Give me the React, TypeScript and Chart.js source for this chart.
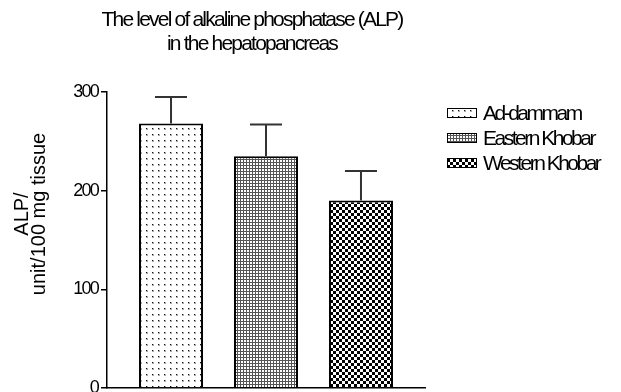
import React, { useEffect, useRef } from 'react';
import { Chart, registerables } from 'chart.js';

Chart.register(...registerables);

// ---------- data ----------
const TITLE_LINES = ['The level of alkaline phosphatase (ALP)', 'in the hepatopancreas'];
const Y_TITLE_LINES = ['ALP/', 'unit/100 mg tissue'];
const SITES = ['Ad-dammam', 'Eastern Khobar', 'Western Khobar'];
const SITE_POSITIONS = [1, 2, 3];
const ALP_MEANS = [268, 235, 190];
const ALP_ERRORS = [27, 32, 30];
const Y_TICKS = [0, 100, 200, 300];
const PATTERN_KINDS = ['dots', 'grid', 'check'];

const Y_MIN = 0;
const Y_MAX = 300;
const X_MIN = 0.326;
const X_MAX = 3.674;

function fontAvailable(name: string): boolean {
  const c = document.createElement('canvas').getContext('2d') as CanvasRenderingContext2D;
  const s = 'mmmmmmmmmmlliWWAa';
  c.font = '40px monospace';
  const a = c.measureText(s).width;
  c.font = `40px "${name}", monospace`;
  const b = c.measureText(s).width;
  return a !== b;
}

function makePattern(ctx: CanvasRenderingContext2D, kind: string): CanvasPattern | string {
  const c = document.createElement('canvas');
  const g = c.getContext('2d') as CanvasRenderingContext2D;
  if (kind === 'dots') {
    c.width = 6; c.height = 6;
    g.fillStyle = '#fff'; g.fillRect(0, 0, 6, 6);
    g.fillStyle = '#aaa'; g.fillRect(2, 2, 2, 2);
    g.fillStyle = '#111'; g.fillRect(2, 2, 1, 1);
  } else if (kind === 'grid') {
    c.width = 3; c.height = 3;
    g.fillStyle = '#fff'; g.fillRect(0, 0, 3, 3);
    g.fillStyle = '#555'; g.fillRect(0, 0, 3, 1); g.fillRect(0, 0, 1, 3);
  } else {
    c.width = 6; c.height = 6;
    g.fillStyle = '#fff'; g.fillRect(0, 0, 6, 6);
    g.fillStyle = '#000'; g.fillRect(0, 0, 3, 3); g.fillRect(3, 3, 3, 3);
  }
  return ctx.createPattern(c, 'repeat') || '#888';
}

export default function App() {
  const ref = useRef<HTMLCanvasElement | null>(null);

  useEffect(() => {
    document.body.style.margin = '0';
    const canvas = ref.current as HTMLCanvasElement;
    const ctx = canvas.getContext('2d') as CanvasRenderingContext2D;

    const narrow = fontAvailable('Liberation Sans Narrow');
    const NARROW_FAMILY = narrow ? '"Liberation Sans Narrow", "Liberation Sans", Arial, sans-serif' : '"Liberation Sans", Arial, sans-serif';
    const SPACING = narrow ? '0px' : '-1.8px';
    const LEGEND_SPACING = narrow ? '0px' : '-2.5px';
    const NORMAL_FAMILY = '"Liberation Sans", Arial, sans-serif';

    const patterns = PATTERN_KINDS.map((k) => makePattern(ctx, k));

    const spacingPlugin = {
      id: 'spacing',
      beforeUpdate(chart: any) { (chart.ctx as any).letterSpacing = SPACING; },
      beforeDraw(chart: any) { (chart.ctx as any).letterSpacing = SPACING; },
    };

    const errorBars = {
      id: 'errorBars',
      afterDatasetsDraw(chart: any) {
        const c = chart.ctx as CanvasRenderingContext2D;
        const y = chart.scales.y;
        c.save();
        c.strokeStyle = '#333';
        c.lineWidth = 2;
        chart.data.datasets.forEach((_ds: any, i: number) => {
          const bar = chart.getDatasetMeta(i).data[0];
          if (!bar) return;
          const top = y.getPixelForValue(ALP_MEANS[i] + ALP_ERRORS[i]);
          const half = bar.width / 4;
          c.beginPath();
          c.moveTo(bar.x, bar.y);
          c.lineTo(bar.x, top);
          c.moveTo(bar.x - half, top);
          c.lineTo(bar.x + half, top);
          c.stroke();
        });
        c.restore();
      },
    };

    const texts = {
      id: 'texts',
      afterDraw(chart: any) {
        const c = chart.ctx as CanvasRenderingContext2D;
        const area = chart.chartArea;
        // title
        c.save();
        (c as any).letterSpacing = SPACING;
        c.fillStyle = '#000';
        c.font = `21px ${NARROW_FAMILY}`;
        c.textAlign = 'center';
        c.textBaseline = 'alphabetic';
        TITLE_LINES.forEach((line, i) => c.fillText(line, 252, 26 + i * 24));
        c.restore();

        // y-axis title
        c.save();
        (c as any).letterSpacing = '0px';
        c.fillStyle = '#000';
        c.font = `20px ${NORMAL_FAMILY}`;
        c.textAlign = 'center';
        c.textBaseline = 'middle';
        c.translate(0, (area.top + area.bottom) / 2 - 26);
        c.rotate(-Math.PI / 2);
        Y_TITLE_LINES.forEach((line, i) => c.fillText(line, 0, 22 + i * 17));
        c.restore();

        // legend
        c.save();
        (c as any).letterSpacing = LEGEND_SPACING;
        c.font = `21px ${NARROW_FAMILY}`;
        c.textAlign = 'left';
        c.textBaseline = 'middle';
        const lx = area.right + 22;
        chart.data.datasets.forEach((ds: any, i: number) => {
          const cy = area.top + 21 + i * 25;
          c.fillStyle = ds.backgroundColor;
          c.fillRect(lx, cy - 4.5, 30, 9);
          c.strokeStyle = '#000';
          c.lineWidth = 1;
          c.strokeRect(lx + 0.5, cy - 4.5, 29, 9);
          c.fillStyle = '#000';
          c.fillText(ds.label, lx + 36, cy + 1);
        });
        c.restore();
      },
    };

    const chart = new Chart(ctx, {
      type: 'bar',
      data: {
        datasets: SITES.map((label, i) => ({
          label,
          data: [{ x: SITE_POSITIONS[i], y: ALP_MEANS[i] }],
          backgroundColor: patterns[i] as any,
          borderColor: '#000',
          borderWidth: 2,
          grouped: false,
          barPercentage: 0.674,
          categoryPercentage: 1,
        })),
      },
      options: {
        animation: false,
        responsive: false,
        layout: { padding: { top: 92, bottom: 4, left: 0, right: 196 } },
        plugins: {
          legend: { display: false },
          title: { display: false },
          tooltip: { enabled: false },
        },
        scales: {
          x: {
            type: 'linear',
            offset: false,
            min: X_MIN,
            max: X_MAX,
            grid: { display: false, offset: false },
            ticks: { display: false },
            border: { display: true, color: '#000', width: 1.5 },
            afterBuildTicks: (s: any) => { s.ticks = SITE_POSITIONS.map((v) => ({ value: v })); },
            afterFit: (s: any) => { s.height = 0; s.paddingLeft = 0; s.paddingRight = 0; },
          },
          y: {
            type: 'linear',
            min: Y_MIN,
            max: Y_MAX,
            afterBuildTicks: (s: any) => { s.ticks = Y_TICKS.map((v) => ({ value: v })); },
            ticks: { color: '#000', font: { family: NARROW_FAMILY, size: 18 }, padding: 3 },
            grid: { drawOnChartArea: false, drawTicks: true, tickLength: 6, color: '#000', lineWidth: 1.5 },
            border: { display: true, color: '#000', width: 1.5 },
            afterFit: (s: any) => { s.width = 107; s.paddingTop = 0; s.paddingBottom = 0; },
          },
        },
      } as any,
      plugins: [spacingPlugin, errorBars, texts],
    });

    return () => chart.destroy();
  }, []);

  return (
    <div style={{ width: 621, height: 392 }}>
      <canvas ref={ref} width={621} height={392} style={{ display: 'block' }} />
    </div>
  );
}
